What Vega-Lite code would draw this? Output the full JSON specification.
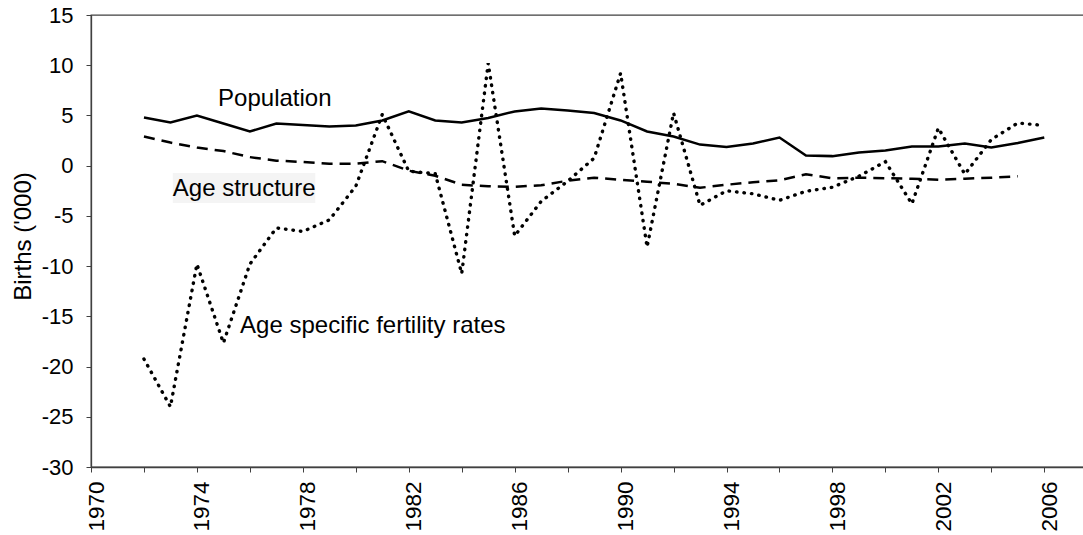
{
  "$schema": "https://vega.github.io/schema/vega-lite/v6.json",
  "width": 993,
  "height": 452,
  "autosize": {"type": "none"},
  "padding": {"left": 91, "top": 15, "right": 0, "bottom": 68},
  "background": "white",
  "config": {
    "view": {"stroke": "#404040", "strokeWidth": 1.3},
    "font": "Liberation Sans",
    "axis": {"labelFont": "Liberation Sans", "titleFont": "Liberation Sans", "labelColor": "black", "titleColor": "black", "domainColor": "#404040", "tickColor": "#404040", "grid": false}
  },
  "datasets": {
    "series": [
      {"year": 1972, "series": "Population", "value": 4.8},
      {"year": 1973, "series": "Population", "value": 4.3},
      {"year": 1974, "series": "Population", "value": 5.0},
      {"year": 1975, "series": "Population", "value": 4.2},
      {"year": 1976, "series": "Population", "value": 3.4},
      {"year": 1977, "series": "Population", "value": 4.2},
      {"year": 1978, "series": "Population", "value": 4.05},
      {"year": 1979, "series": "Population", "value": 3.9},
      {"year": 1980, "series": "Population", "value": 4.0},
      {"year": 1981, "series": "Population", "value": 4.5},
      {"year": 1982, "series": "Population", "value": 5.4},
      {"year": 1983, "series": "Population", "value": 4.5},
      {"year": 1984, "series": "Population", "value": 4.3},
      {"year": 1985, "series": "Population", "value": 4.75},
      {"year": 1986, "series": "Population", "value": 5.4},
      {"year": 1987, "series": "Population", "value": 5.7},
      {"year": 1988, "series": "Population", "value": 5.5},
      {"year": 1989, "series": "Population", "value": 5.25},
      {"year": 1990, "series": "Population", "value": 4.5},
      {"year": 1991, "series": "Population", "value": 3.4},
      {"year": 1992, "series": "Population", "value": 2.9},
      {"year": 1993, "series": "Population", "value": 2.1},
      {"year": 1994, "series": "Population", "value": 1.85},
      {"year": 1995, "series": "Population", "value": 2.2},
      {"year": 1996, "series": "Population", "value": 2.8},
      {"year": 1997, "series": "Population", "value": 1.0},
      {"year": 1998, "series": "Population", "value": 0.95},
      {"year": 1999, "series": "Population", "value": 1.3},
      {"year": 2000, "series": "Population", "value": 1.5},
      {"year": 2001, "series": "Population", "value": 1.9},
      {"year": 2002, "series": "Population", "value": 1.9},
      {"year": 2003, "series": "Population", "value": 2.2},
      {"year": 2004, "series": "Population", "value": 1.8},
      {"year": 2005, "series": "Population", "value": 2.25},
      {"year": 2006, "series": "Population", "value": 2.8},
      {"year": 1972, "series": "Age structure", "value": 2.9},
      {"year": 1973, "series": "Age structure", "value": 2.3},
      {"year": 1974, "series": "Age structure", "value": 1.8},
      {"year": 1975, "series": "Age structure", "value": 1.45},
      {"year": 1976, "series": "Age structure", "value": 0.85},
      {"year": 1977, "series": "Age structure", "value": 0.5},
      {"year": 1978, "series": "Age structure", "value": 0.37},
      {"year": 1979, "series": "Age structure", "value": 0.2},
      {"year": 1980, "series": "Age structure", "value": 0.2},
      {"year": 1981, "series": "Age structure", "value": 0.45},
      {"year": 1982, "series": "Age structure", "value": -0.5},
      {"year": 1983, "series": "Age structure", "value": -1.0},
      {"year": 1984, "series": "Age structure", "value": -1.9},
      {"year": 1985, "series": "Age structure", "value": -2.05},
      {"year": 1986, "series": "Age structure", "value": -2.1},
      {"year": 1987, "series": "Age structure", "value": -1.95},
      {"year": 1988, "series": "Age structure", "value": -1.5},
      {"year": 1989, "series": "Age structure", "value": -1.2},
      {"year": 1990, "series": "Age structure", "value": -1.4},
      {"year": 1991, "series": "Age structure", "value": -1.6},
      {"year": 1992, "series": "Age structure", "value": -1.8},
      {"year": 1993, "series": "Age structure", "value": -2.2},
      {"year": 1994, "series": "Age structure", "value": -1.9},
      {"year": 1995, "series": "Age structure", "value": -1.65},
      {"year": 1996, "series": "Age structure", "value": -1.45},
      {"year": 1997, "series": "Age structure", "value": -0.85},
      {"year": 1998, "series": "Age structure", "value": -1.25},
      {"year": 1999, "series": "Age structure", "value": -1.2},
      {"year": 2000, "series": "Age structure", "value": -1.25},
      {"year": 2001, "series": "Age structure", "value": -1.3},
      {"year": 2002, "series": "Age structure", "value": -1.4},
      {"year": 2003, "series": "Age structure", "value": -1.3},
      {"year": 2004, "series": "Age structure", "value": -1.2},
      {"year": 2005, "series": "Age structure", "value": -1.05},
      {"year": 1972, "series": "Age specific fertility rates", "value": -19.25},
      {"year": 1973, "series": "Age specific fertility rates", "value": -24.0},
      {"year": 1974, "series": "Age specific fertility rates", "value": -9.8},
      {"year": 1975, "series": "Age specific fertility rates", "value": -17.65},
      {"year": 1976, "series": "Age specific fertility rates", "value": -9.8},
      {"year": 1977, "series": "Age specific fertility rates", "value": -6.2},
      {"year": 1978, "series": "Age specific fertility rates", "value": -6.55},
      {"year": 1979, "series": "Age specific fertility rates", "value": -5.4},
      {"year": 1980, "series": "Age specific fertility rates", "value": -2.05},
      {"year": 1981, "series": "Age specific fertility rates", "value": 5.1},
      {"year": 1982, "series": "Age specific fertility rates", "value": -0.55},
      {"year": 1983, "series": "Age specific fertility rates", "value": -0.8},
      {"year": 1984, "series": "Age specific fertility rates", "value": -10.75},
      {"year": 1985, "series": "Age specific fertility rates", "value": 10.2},
      {"year": 1986, "series": "Age specific fertility rates", "value": -7.0},
      {"year": 1987, "series": "Age specific fertility rates", "value": -3.55},
      {"year": 1988, "series": "Age specific fertility rates", "value": -1.55},
      {"year": 1989, "series": "Age specific fertility rates", "value": 0.75},
      {"year": 1990, "series": "Age specific fertility rates", "value": 9.2},
      {"year": 1991, "series": "Age specific fertility rates", "value": -8.1},
      {"year": 1992, "series": "Age specific fertility rates", "value": 5.25},
      {"year": 1993, "series": "Age specific fertility rates", "value": -3.95},
      {"year": 1994, "series": "Age specific fertility rates", "value": -2.5},
      {"year": 1995, "series": "Age specific fertility rates", "value": -2.8},
      {"year": 1996, "series": "Age specific fertility rates", "value": -3.45},
      {"year": 1997, "series": "Age specific fertility rates", "value": -2.55},
      {"year": 1998, "series": "Age specific fertility rates", "value": -2.15},
      {"year": 1999, "series": "Age specific fertility rates", "value": -1.05},
      {"year": 2000, "series": "Age specific fertility rates", "value": 0.4},
      {"year": 2001, "series": "Age specific fertility rates", "value": -3.8},
      {"year": 2002, "series": "Age specific fertility rates", "value": 3.75},
      {"year": 2003, "series": "Age specific fertility rates", "value": -0.85},
      {"year": 2004, "series": "Age specific fertility rates", "value": 2.6},
      {"year": 2005, "series": "Age specific fertility rates", "value": 4.25},
      {"year": 2006, "series": "Age specific fertility rates", "value": 4.0}
    ],
    "labels": [
      {"year": 1974.8, "value": 5.9, "text": "Population"},
      {"year": 1973.09, "value": -3.06, "text": "Age structure"},
      {"year": 1975.63, "value": -16.66, "text": "Age specific fertility rates"}
    ],
    "boxes": [
      {"year": 1973.09, "year2": 1978.47, "value": -0.73, "value2": -3.72}
    ]
  },
  "layer": [
    {
      "data": {"name": "boxes"},
      "mark": {"type": "rect", "color": "#f4f4f4"},
      "encoding": {
        "x": {"field": "year", "type": "quantitative"},
        "x2": {"field": "year2"},
        "y": {"field": "value", "type": "quantitative"},
        "y2": {"field": "value2"}
      }
    },
    {
      "mark": {"type": "rule", "color": "#404040", "strokeWidth": 1.3},
      "encoding": {"y": {"datum": 0, "type": "quantitative"}}
    },
    {
      "data": {"name": "series"},
      "transform": [{"filter": "datum.series === 'Population'"}],
      "mark": {"type": "line", "color": "black", "strokeWidth": 2.5},
      "encoding": {
        "x": {
          "field": "year", "type": "quantitative",
          "scale": {"domain": [1970, 2007.5], "nice": false, "zero": false},
          "axis": {
            "title": null,
            "values": [1970, 1972, 1974, 1976, 1978, 1980, 1982, 1984, 1986, 1988, 1990, 1992, 1994, 1996, 1998, 2000, 2002, 2004, 2006],
            "format": "d",
            "labelExpr": "(datum.value - 1970) % 4 === 0 ? datum.label : ''",
            "labelAngle": 270,
            "labelAlign": "right",
            "labelBaseline": "middle",
            "labelFontSize": 22.5,
            "labelPadding": 9,
            "labelOffset": 5,
            "tickSize": 5,
            "labelOverlap": false,
            "labelFlush": false,
            "domainWidth": 1.3
          }
        },
        "y": {
          "field": "value", "type": "quantitative",
          "scale": {"domain": [-30, 15], "nice": false},
          "axis": {
            "title": "Births ('000)",
            "titleFontSize": 24,
            "titleFontWeight": "normal",
            "titleX": -68,
            "titleY": 221,
            "titleAngle": 270,
            "titleAlign": "center",
            "titleBaseline": "middle",
            "values": [-30, -25, -20, -15, -10, -5, 0, 5, 10, 15],
            "labelExpr": "'' + datum.value",
            "labelFontSize": 22,
            "labelPadding": 13,
            "tickSize": 5,
            "labelFlush": false,
            "domainWidth": 1.3
          }
        }
      }
    },
    {
      "data": {"name": "series"},
      "transform": [{"filter": "datum.series === 'Age structure'"}],
      "mark": {"type": "line", "color": "black", "strokeWidth": 2.5, "strokeDash": [11, 7]},
      "encoding": {
        "x": {"field": "year", "type": "quantitative"},
        "y": {"field": "value", "type": "quantitative"}
      }
    },
    {
      "data": {"name": "series"},
      "transform": [{"filter": "datum.series === 'Age specific fertility rates'"}],
      "mark": {"type": "line", "color": "black", "strokeWidth": 3.4, "strokeDash": [0.5, 7], "strokeCap": "round"},
      "encoding": {
        "x": {"field": "year", "type": "quantitative"},
        "y": {"field": "value", "type": "quantitative"}
      }
    },
    {
      "data": {"name": "labels"},
      "mark": {"type": "text", "align": "left", "baseline": "alphabetic", "fontSize": 24, "font": "Liberation Sans", "color": "black"},
      "encoding": {
        "x": {"field": "year", "type": "quantitative"},
        "y": {"field": "value", "type": "quantitative"},
        "text": {"field": "text"}
      }
    }
  ]
}
